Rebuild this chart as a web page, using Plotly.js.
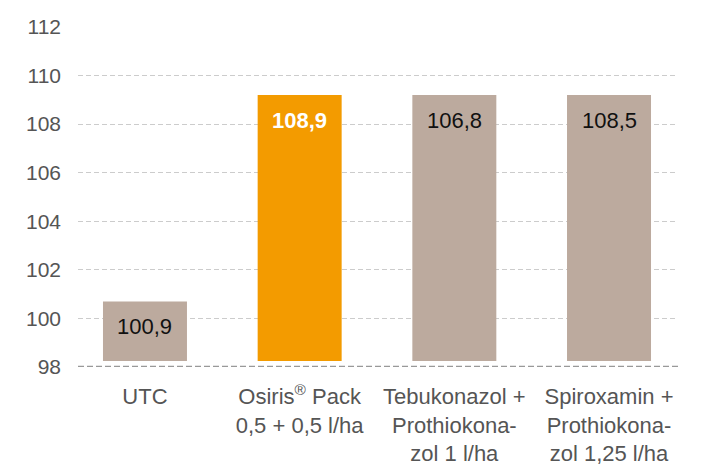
<!DOCTYPE html>
<html>
<head>
<meta charset="utf-8">
<script src="https://cdn.plot.ly/plotly-3.0.1.min.js"></script>
<style>
  html, body { margin: 0; padding: 0; background: #fff; }
  #chart { width: 726px; height: 471px; }
</style>
</head>
<body>
<div id="chart"></div>
<script>
// categories (x tick labels)
var categories = [
  "UTC",
  "Osiris<sup>®</sup> Pack<br>0,5 + 0,5 l/ha",
  "Tebukonazol +<br>Prothiokona-<br>zol 1 l/ha",
  "Spiroxamin +<br>Prothiokona-<br>zol 1,25 l/ha"
];
// bar tops as drawn in the picture, and the numbers printed on them
var barTops = [100.7, 109.2, 109.2, 109.2];
var barBase = 98.25;
var shownValues = ["100,9", "<b>108,9</b>", "106,8", "108,5"];
var barColors = ["#bcaa9e", "#f39b00", "#bcaa9e", "#bcaa9e"];
var labelColors = ["#111111", "#ffffff", "#111111", "#111111"];
var yTicks = [98, 100, 102, 104, 106, 108, 110, 112];

var xs = categories.map((c, i) => i);

var trace1 = {
  x: xs,
  y: barTops.map(t => t - barBase),
  base: barBase,
  type: "bar",
  width: 0.543,
  marker: { color: barColors },
  hoverinfo: "skip"
};

// value labels inside the bars, near the top
var labels = xs.map((x, i) => ({
  x: x,
  y: barTops[i],
  yanchor: "top",
  yshift: -11,
  text: shownValues[i],
  showarrow: false,
  font: { family: "Liberation Sans, Arial, sans-serif", size: 22, color: labelColors[i] }
}));

var layout = {
  width: 726,
  height: 471,
  showlegend: false,
  paper_bgcolor: "#fff",
  plot_bgcolor: "#fff",
  margin: { l: 78, r: 48, t: 27, b: 104 },
  font: { family: "Liberation Sans, Arial, sans-serif" },
  xaxis: {
    type: "linear",
    range: [-0.433, 3.446],
    tickvals: xs,
    ticktext: categories,
    showgrid: false,
    zeroline: false,
    showline: false,
    ticks: "",
    ticklabelstandoff: 14,
    tickfont: { size: 22, color: "#555555" }
  },
  yaxis: {
    range: [98, 112],
    tickvals: yTicks,
    showgrid: true,
    gridcolor: "#cccccc",
    gridwidth: 1,
    griddash: "5px,3px",
    zeroline: false,
    showline: false,
    ticks: "",
    ticklabelstandoff: 16,
    tickfont: { size: 21, color: "#555555" }
  },
  shapes: [{
    type: "line",
    xref: "paper", yref: "y",
    x0: 0, x1: 1, y0: yTicks[0], y1: yTicks[0],
    line: { color: "#999999", width: 2.5, dash: "6px,3px" },
    layer: "above"
  }],
  annotations: labels
};

Plotly.newPlot("chart", [trace1], layout, { displayModeBar: false, staticPlot: true });
</script>
</body>
</html>
